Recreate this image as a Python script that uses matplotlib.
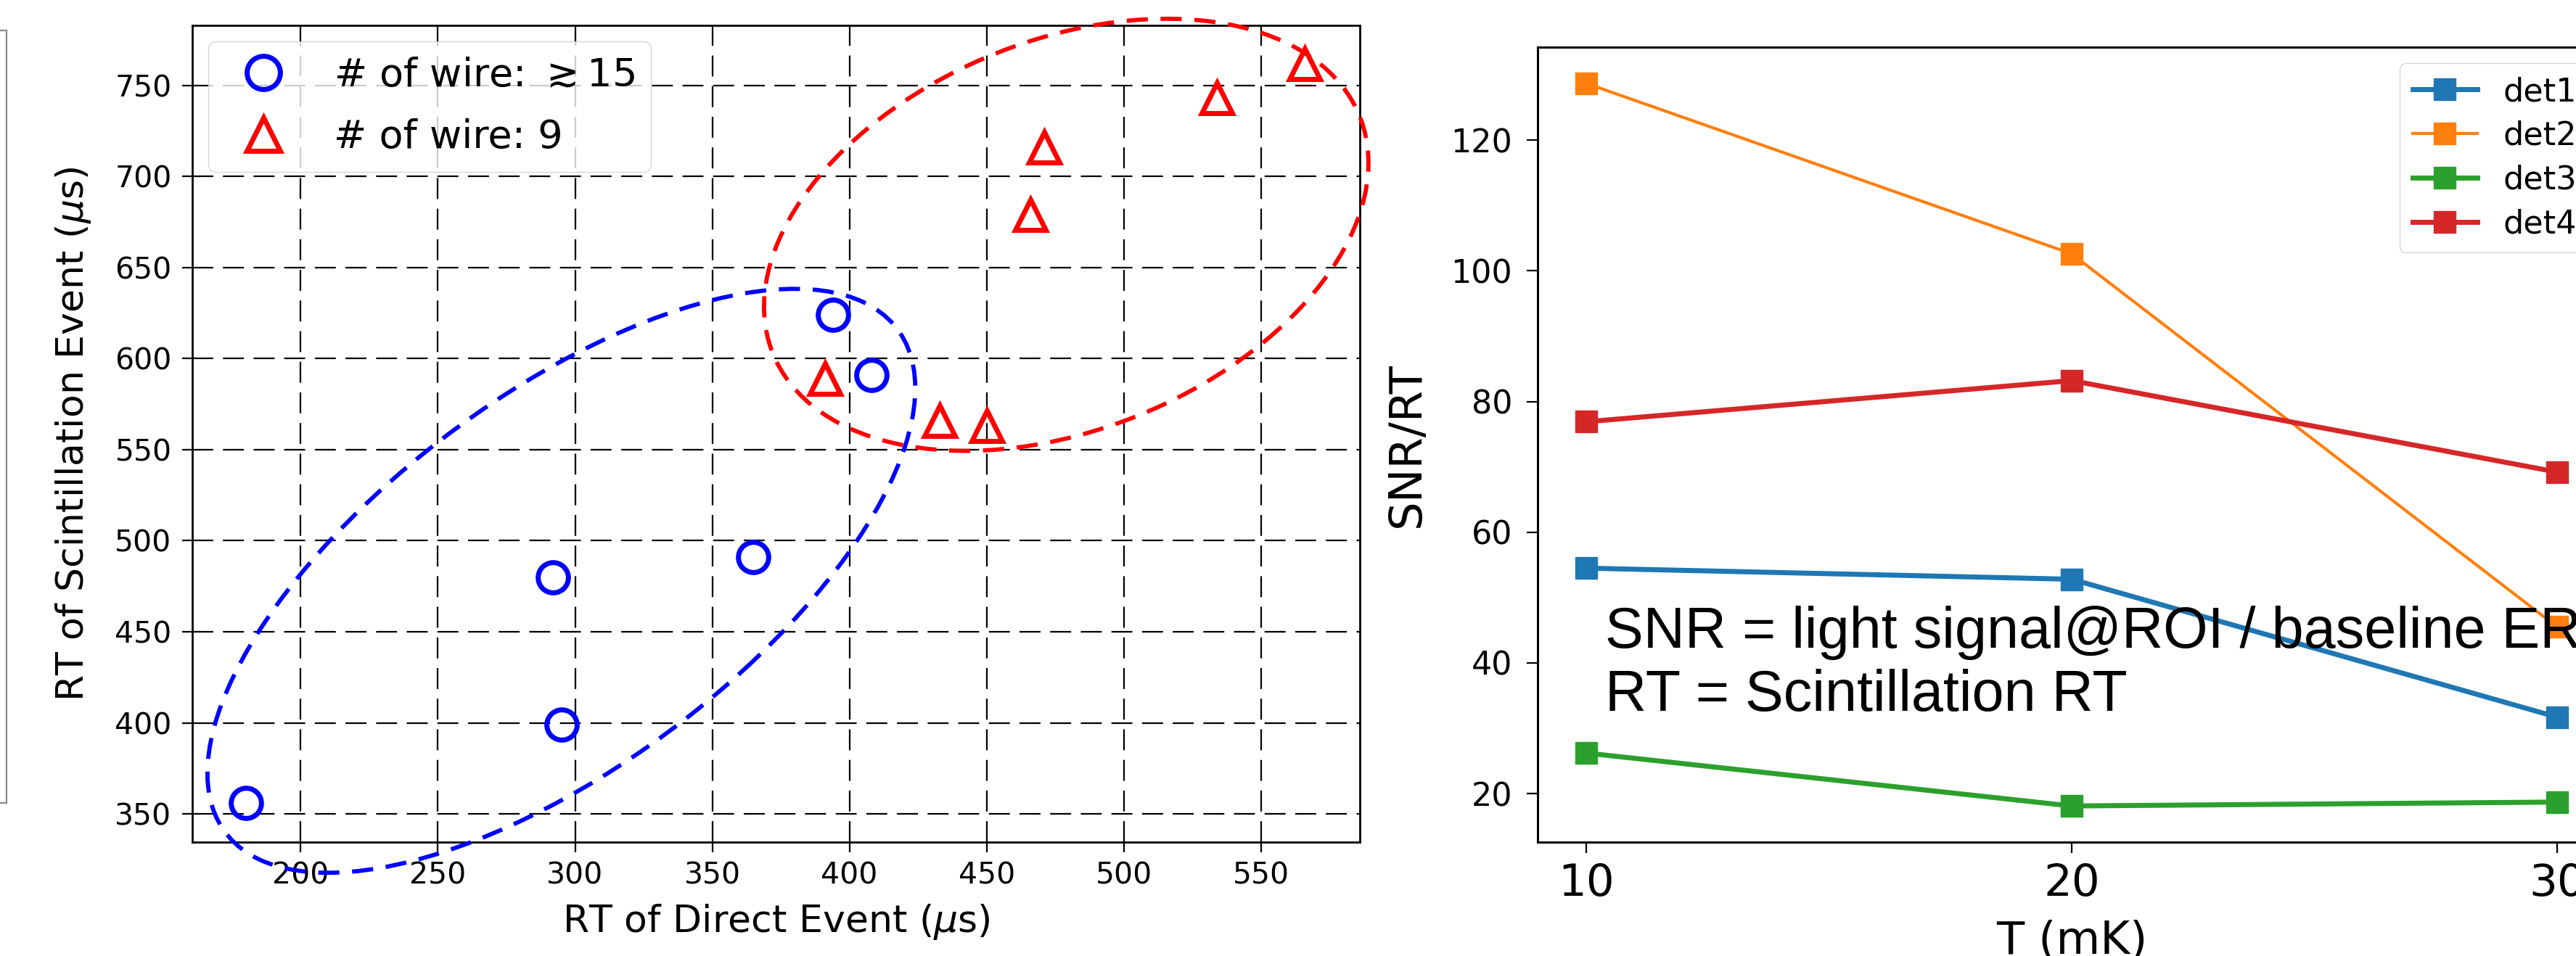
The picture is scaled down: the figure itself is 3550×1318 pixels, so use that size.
import matplotlib
matplotlib.use("Agg")
import matplotlib.pyplot as plt
from matplotlib.patches import Ellipse

# ---------------- data ----------------
# scatter panel
wire15_x = [180, 292, 295, 365, 394, 408]
wire15_y = [356, 480, 399, 491, 624, 591]
wire9_x = [391, 433, 450, 466, 471, 534, 566]
wire9_y = [589, 566, 563, 679, 716, 743, 762]
scatter_xticks = [200, 250, 300, 350, 400, 450, 500, 550]
scatter_yticks = [350, 400, 450, 500, 550, 600, 650, 700, 750]

# line panel
temps = [10, 20, 30]
det1 = [54.5, 52.8, 31.7]
det2 = [128.7, 102.6, 45.5]
det3 = [26.2, 18.1, 18.7]
det4 = [76.9, 83.2, 69.2]
line_yticks = [20, 40, 60, 80, 100, 120]

# ---------------- figure ----------------
W, H, DPI = 3550, 1318, 100
fig = plt.figure(figsize=(W / DPI, H / DPI), dpi=DPI)
fig.patch.set_facecolor("white")

def px(x0, y0, x1, y1):
    """convert pixel box (left, top, right, bottom) to figure fraction rect"""
    return [x0 / W, 1 - y1 / H, (x1 - x0) / W, (y1 - y0) / H]

# ---- left cropped fragment (only right edge of a frame visible) ----
axf = fig.add_axes(px(-900, 42, 9, 1107))
axf.set_xticks([])
axf.set_yticks([])
for s in axf.spines.values():
    s.set_color("#8a8a8a")
    s.set_linewidth(1.6)

# ---- scatter panel ----
ax = fig.add_axes(px(265, 35, 1874, 1161))
ax.plot(wire15_x, wire15_y, linestyle="none", marker="o", ms=30, mew=5,
        mfc="none", mec="blue", label=r"# of wire: $\gtrsim$15", zorder=4)
ax.plot(wire9_x, wire9_y, linestyle="none", marker="^", ms=30, mew=5,
        mfc="none", mec="red", label="# of wire: 9", zorder=4)

ell_blue = Ellipse((295, 478), 377, 165, angle=54.2, fill=False,
                   edgecolor="blue", lw=4.2, linestyle=(0, (5, 3)),
                   clip_on=False, zorder=3)
ell_red = Ellipse((479, 668), 265, 186, angle=51.3, fill=False,
                  edgecolor="red", lw=4.2, linestyle=(0, (5, 3)),
                  clip_on=False, zorder=3)
ax.add_patch(ell_blue)
ax.add_patch(ell_red)

ax.set_xlim(160.5, 586)
ax.set_ylim(334.5, 783)
ax.set_xticks(scatter_xticks)
ax.set_yticks(scatter_yticks)
ax.grid(True, color="black", linestyle=(0, (13, 6)), linewidth=1.6, zorder=1)
ax.set_axisbelow(True)
ax.tick_params(labelsize=29.5, length=10, width=1.6, pad=9)
ax.tick_params(axis="y", pad=10.5)
for s in ax.spines.values():
    s.set_linewidth(2)
ax.set_xlabel(r"RT of Direct Event ($\mu$s)", fontsize=37.5, labelpad=12)
ax.set_ylabel(r"RT of Scintillation Event ($\mu$s)", fontsize=37.5, labelpad=22)
leg = ax.legend(loc="upper left", fontsize=39, framealpha=0.8,
                borderaxespad=0.4, markerscale=1.1, labelspacing=0.6)
leg.set_zorder(5)

# ---- line panel (cropped on the right) ----
ax2 = fig.add_axes(px(2119, 65, 3591, 1161))
ax2.plot(temps, det1, marker="s", ms=21, lw=5, color="tab:blue", label="det1")
ax2.plot(temps, det2, marker="s", ms=21, lw=3, color="tab:orange", label="det2")
ax2.plot(temps, det3, marker="s", ms=21, lw=5, color="tab:green", label="det3")
ax2.plot(temps, det4, marker="s", ms=21, lw=5, color="tab:red", label="det4")
ax2.set_xticks(temps)
ax2.set_yticks(line_yticks)
ax2.tick_params(axis="y", labelsize=32, length=11, width=1.6, pad=14)
ax2.tick_params(axis="x", labelsize=44, length=11, width=1.6, pad=9)
for s in ax2.spines.values():
    s.set_linewidth(2.2)
ax2.set_xlabel("T (mK)", fontsize=45, labelpad=14)
ax2.set_ylabel("SNR/RT", fontsize=45, labelpad=22)
ax2.legend(loc="upper right", fontsize=32, labelspacing=0.4)

fig.text(2212 / W, 1 - 980 / H, "SNR = light signal@ROI / baseline ER\nRT = Scintillation RT",
         fontsize=57, family="Liberation Sans", ha="left", va="baseline",
         linespacing=1.2, zorder=10)

fig.savefig("out.png", dpi=DPI, facecolor="white")
